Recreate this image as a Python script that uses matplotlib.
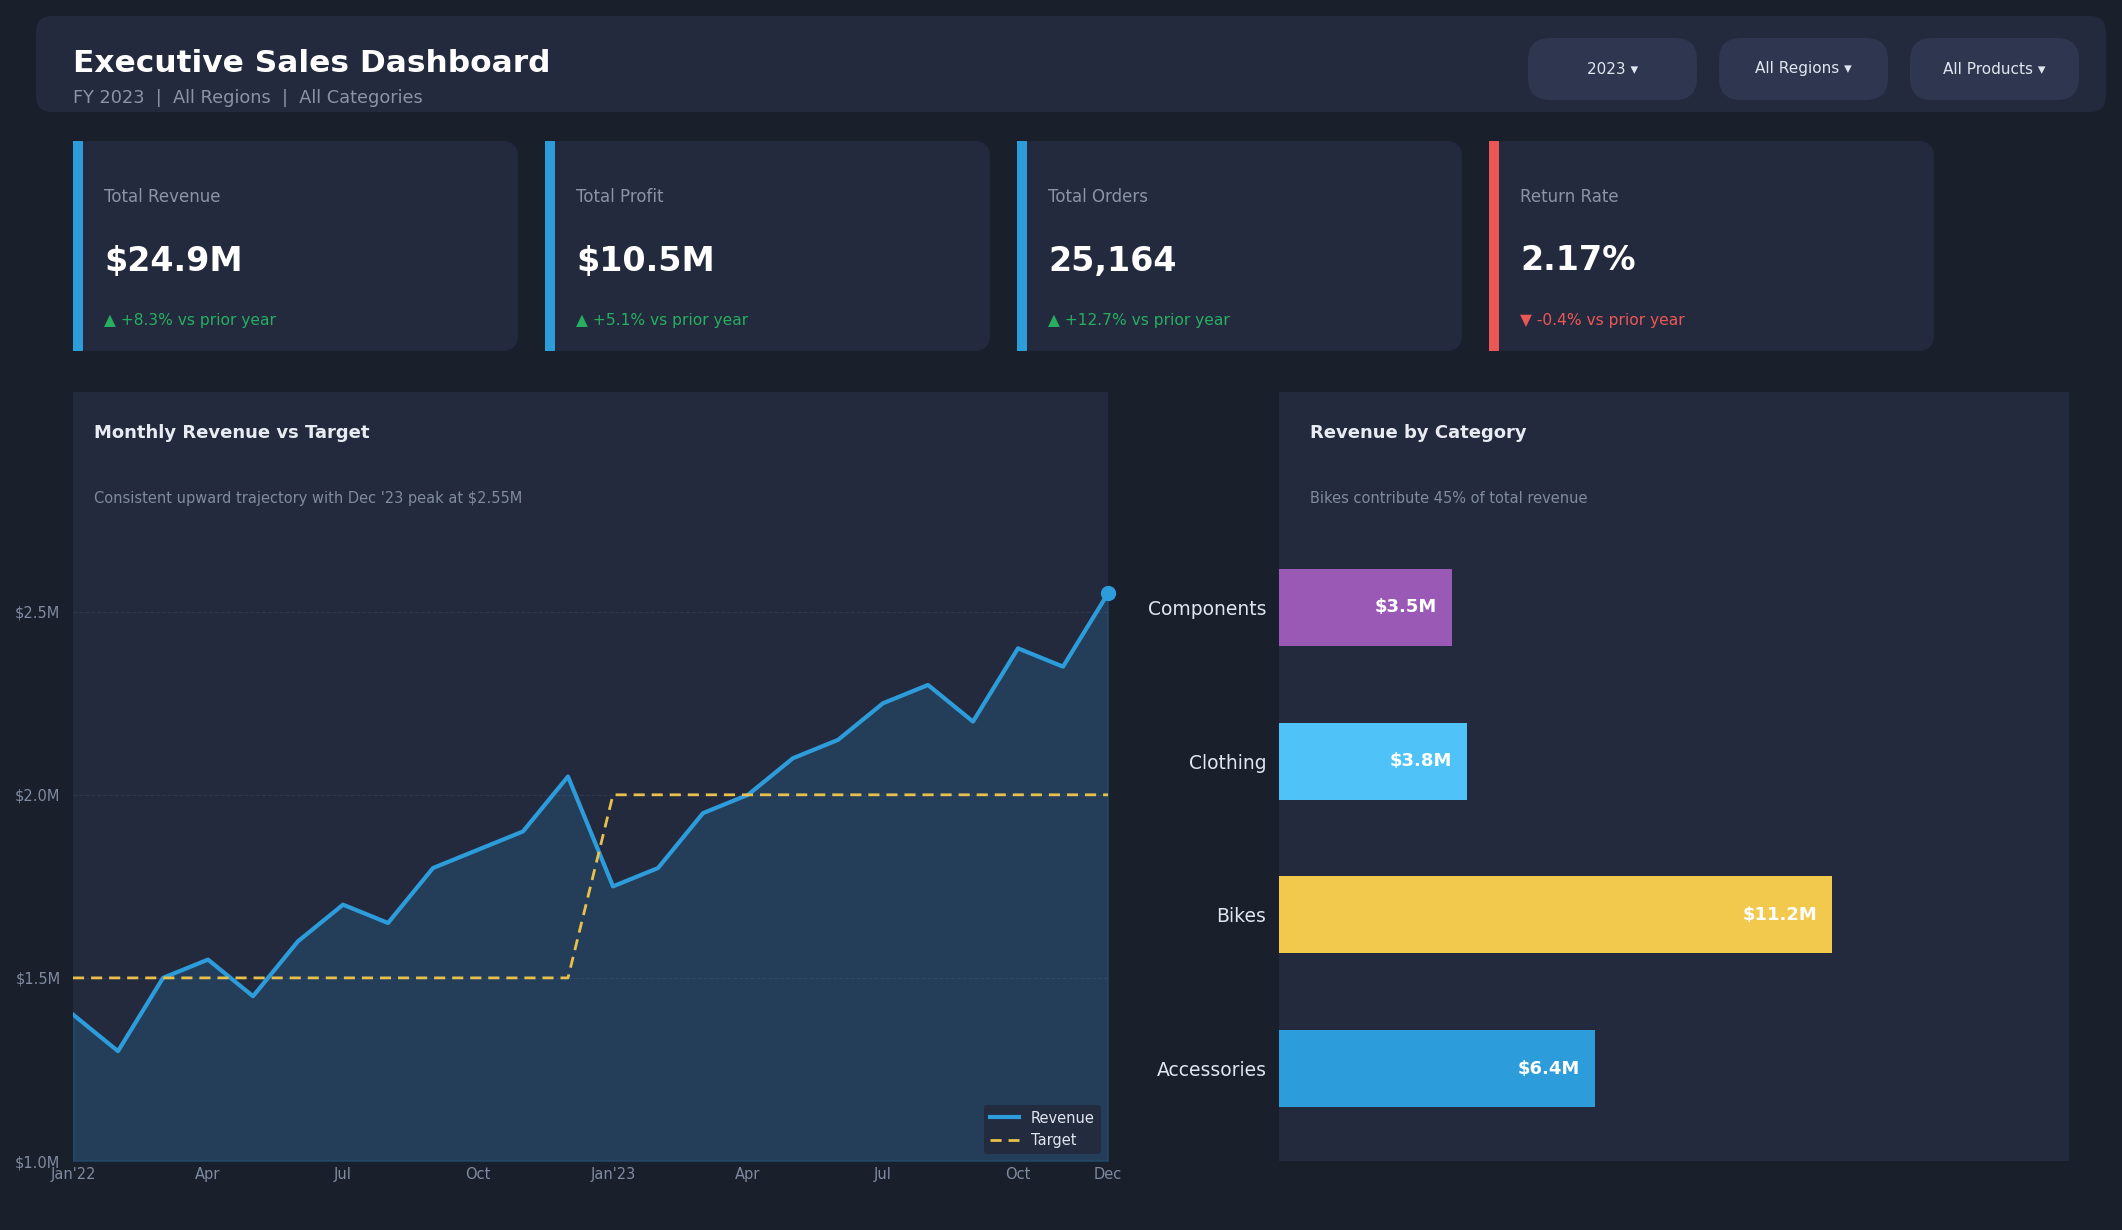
import numpy as np
import matplotlib.pyplot as plt
from matplotlib.patches import FancyBboxPatch, Rectangle

# Data
months = np.arange(24)
revenue = [1.40, 1.30, 1.50, 1.55, 1.45, 1.60, 1.70, 1.65, 1.80, 1.85, 1.90, 2.05,
           1.75, 1.80, 1.95, 2.00, 2.10, 2.15, 2.25, 2.30, 2.20, 2.40, 2.35, 2.55]
target = [1.5] * 12 + [2.0] * 12
month_ticks = [0, 3, 6, 9, 12, 15, 18, 21, 23]
month_labels = ["Jan'22", 'Apr', 'Jul', 'Oct', "Jan'23", 'Apr', 'Jul', 'Oct', 'Dec']

categories = ['Accessories', 'Bikes', 'Clothing', 'Components']
cat_revenue = [6.4, 11.2, 3.8, 3.5]
cat_colors = ['#2d9cdb', '#f2c94c', '#4fc3f7', '#9b59b6']

kpi_names = ['Total Revenue', 'Total Profit', 'Total Orders', 'Return Rate']
kpi_values = ['$24.9M', '$10.5M', '25,164', '2.17%']
kpi_deltas = ['\u25b2 +8.3% vs prior year', '\u25b2 +5.1% vs prior year',
              '\u25b2 +12.7% vs prior year', '\u25bc -0.4% vs prior year']
kpi_good = [True, True, True, False]
filters = ['2023 \u25be', 'All Regions \u25be', 'All Products \u25be']

# Colours
BG = '#1a1f2c'
PANEL = '#232a3d'
BUTTON = '#2e3650'
GREY = '#8a94a6'
BLUE = '#2d9cdb'
GOLD = '#e9c04c'
GREEN = '#27ae60'
RED = '#eb5757'

W, H = 2122, 1230
fig = plt.figure(figsize=(W / 100, H / 100), dpi=100, facecolor=BG)

# background layer in pixel coordinates
bg = fig.add_axes([0, 0, 1, 1], zorder=-1)
bg.set_xlim(0, W)
bg.set_ylim(H, 0)
bg.axis('off')

def rbox(x, y, w, h, r, color):
    bg.add_patch(FancyBboxPatch((x, y), w, h, boxstyle=f'round,pad=0,rounding_size={r}',
                                fc=color, ec='none'))

# header
rbox(36, 16, 2070, 96, 16, PANEL)
bg.text(73, 64, 'Executive Sales Dashboard', color='white', fontsize=22.5,
        fontweight='bold', va='center')
bg.text(73, 98, 'FY 2023  |  All Regions  |  All Categories', color=GREY,
        fontsize=12.8, va='center')
for i, f in enumerate(filters):
    bx = 1528 + i * 191
    rbox(bx, 38, 169, 62, 22, BUTTON)
    bg.text(bx + 84.5, 69, f, color='#e0e6ef', fontsize=11, ha='center', va='center')

# KPI cards
for i in range(4):
    cx = 73 + i * 472
    rbox(cx, 141, 445, 210, 16, PANEL)
    bg.add_patch(Rectangle((cx, 141), 10, 210, fc=RED if not kpi_good[i] else BLUE, ec='none'))
    bg.text(cx + 31, 197, kpi_names[i], color=GREY, fontsize=12, va='center')
    bg.text(cx + 31, 261, kpi_values[i], color='white', fontsize=24,
            fontweight='bold', va='center')
    bg.text(cx + 31, 320, kpi_deltas[i], color=GREEN if kpi_good[i] else RED,
            fontsize=11.2, va='center')

# Monthly revenue vs target
ax = fig.add_axes([73 / W, 1 - 1161 / H, 1035 / W, 769 / H], facecolor=PANEL)
ax.fill_between(months, revenue, 1.0, color=BLUE, alpha=0.18, lw=1.5)
ax.plot(months, revenue, color=BLUE, lw=3, label='Revenue', zorder=3)
ax.plot(months, target, color=GOLD, lw=2, ls=(0, (4, 2.5)), label='Target', zorder=3)
ax.plot(months[-1], revenue[-1], 'o', color=BLUE, ms=10, clip_on=False, zorder=4)
ax.set_xlim(0, 23)
ax.set_ylim(1.0, 3.1)
ax.set_yticks([1.0, 1.5, 2.0, 2.5])
ax.set_yticklabels(['$1.0M', '$1.5M', '$2.0M', '$2.5M'])
ax.set_xticks(month_ticks)
ax.set_xticklabels(month_labels)
ax.tick_params(colors='#7f8ba0', labelsize=10.5, length=0)
ax.tick_params(axis='y', pad=9)
ax.tick_params(axis='x', pad=4)
ax.grid(axis='y', color='#2e3650', lw=0.8, ls='--')
ax.set_axisbelow(True)
for s in ax.spines.values():
    s.set_visible(False)
ax.text(0.02, 0.947, 'Monthly Revenue vs Target', transform=ax.transAxes,
        color='#e8ecf2', fontsize=13, fontweight='bold', va='center')
ax.text(0.02, 0.861, "Consistent upward trajectory with Dec '23 peak at $2.55M",
        transform=ax.transAxes, color='#7f8ba0', fontsize=10.5, va='center')
leg = ax.legend(loc='lower right', facecolor=PANEL, edgecolor='none', framealpha=0.95,
                fontsize=10.5, labelcolor='#e0e6ef')

# Revenue by category
ax2 = fig.add_axes([1279 / W, 1 - 1161 / H, 790 / W, 769 / H], facecolor=PANEL)
y = np.arange(len(categories))
ax2.barh(y, cat_revenue, height=0.5, color=cat_colors)
for yi, v in zip(y, cat_revenue):
    ax2.text(v - 0.3, yi, f'${v}M', color='white', fontsize=13, fontweight='bold',
             ha='right', va='center')
ax2.set_xlim(0, 16)
ax2.set_ylim(-0.6, 4.4)
ax2.set_xticks([])
ax2.set_yticks(y)
ax2.set_yticklabels(categories)
ax2.tick_params(axis='y', colors='#e0e6ef', labelsize=13.5, length=0, pad=9)
for s in ax2.spines.values():
    s.set_visible(False)
ax2.text(0.039, 0.947, 'Revenue by Category', transform=ax2.transAxes,
         color='#e8ecf2', fontsize=13, fontweight='bold', va='center')
ax2.text(0.039, 0.861, 'Bikes contribute 45% of total revenue', transform=ax2.transAxes,
         color='#7f8ba0', fontsize=10.5, va='center')

plt.savefig('out.png', dpi=100, facecolor=BG)
